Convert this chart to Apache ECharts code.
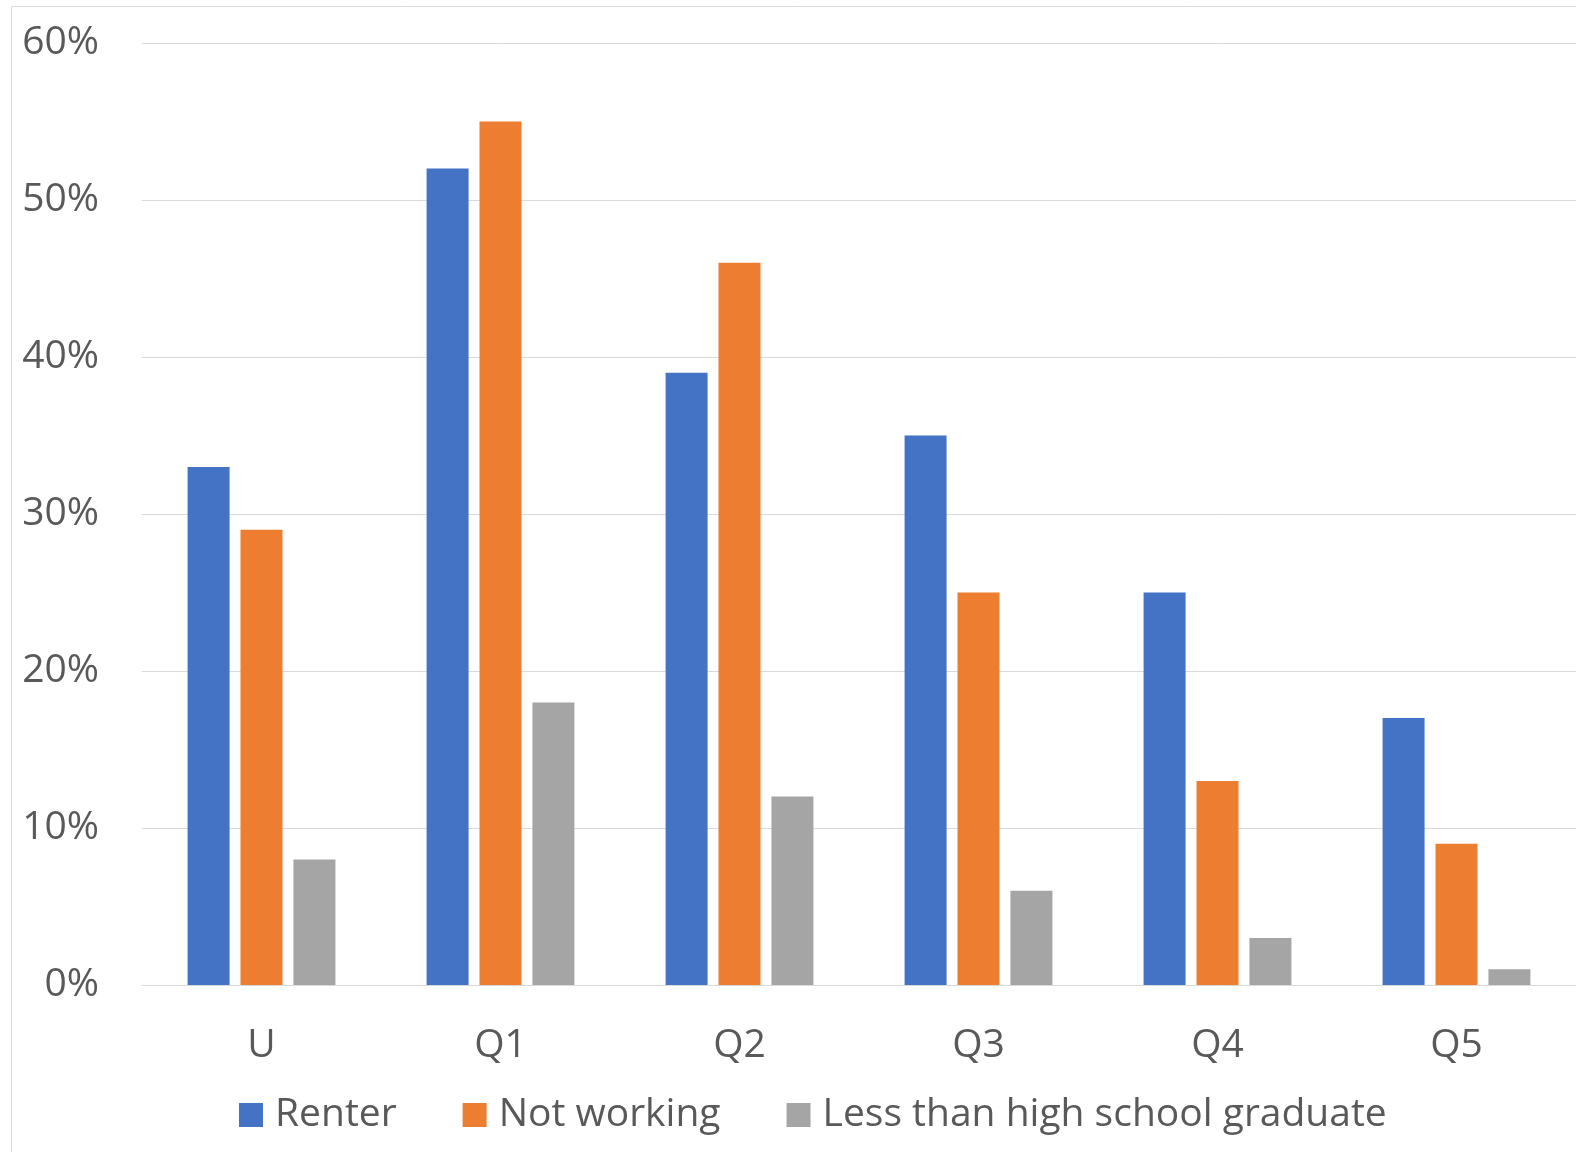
<!DOCTYPE html>
<html>
<head>
<meta charset="utf-8">
<script src="https://cdn.jsdelivr.net/npm/echarts@6/dist/echarts.min.js"></script>
<style>
html,body{margin:0;padding:0;background:#fff;}
#chart{width:1576px;height:1152px;}
</style>
</head>
<body>
<div id="chart"></div>
<script>
const categories = ['U', 'Q1', 'Q2', 'Q3', 'Q4', 'Q5'];
const renter = [33, 52, 39, 35, 25, 17];
const notWorking = [29, 55, 46, 25, 13, 9];
const lessThanHS = [8, 18, 12, 6, 3, 1];
const yTicks = [0, 10, 20, 30, 40, 50, 60];

const chart = echarts.init(document.getElementById('chart'));
const font = '"Open Sans", "Noto Sans", sans-serif';
const txt = '#595959';
chart.setOption({
  animation: false,
  backgroundColor: '#fff',
  graphic: [{
    type: 'rect',
    shape: {x: 11.5, y: 6.5, width: 1700, height: 1300},
    style: {fill: 'none', stroke: '#d9d9d9', lineWidth: 1},
    silent: true
  }],
  grid: {left: 142, right: 0, top: 43, bottom: 167, containLabel: false},
  legend: {
    left: 239, top: 1093, padding: 0,
    itemWidth: 24, itemHeight: 24, itemGap: 66,
    icon: 'rect',
    textStyle: {fontFamily: font, fontSize: 39, color: txt, lineHeight: 44, padding: [0, 0, 0, 7]},
    data: ['Renter', 'Not working', 'Less than high school graduate']
  },
  xAxis: {
    type: 'category', data: categories,
    axisLine: {lineStyle: {color: '#d9d9d9', width: 1}},
    axisTick: {show: false},
    axisLabel: {fontFamily: font, fontSize: 39, color: txt, margin: 41}
  },
  yAxis: {
    type: 'value', min: yTicks[0], max: yTicks[yTicks.length - 1], interval: 10,
    axisLine: {show: false}, axisTick: {show: false},
    splitLine: {lineStyle: {color: '#d9d9d9', width: 1}},
    axisLabel: {fontFamily: font, fontSize: 39, color: txt, margin: 43, formatter: '{value}%'}
  },
  series: [
    {name: 'Renter', type: 'bar', data: renter, barWidth: 42, barGap: '26%', itemStyle: {color: '#4472C4'}},
    {name: 'Not working', type: 'bar', data: notWorking, barWidth: 42, barGap: '26%', itemStyle: {color: '#ED7D31'}},
    {name: 'Less than high school graduate', type: 'bar', data: lessThanHS, barWidth: 42, barGap: '26%', itemStyle: {color: '#A5A5A5'}}
  ]
});
</script>
</body>
</html>
